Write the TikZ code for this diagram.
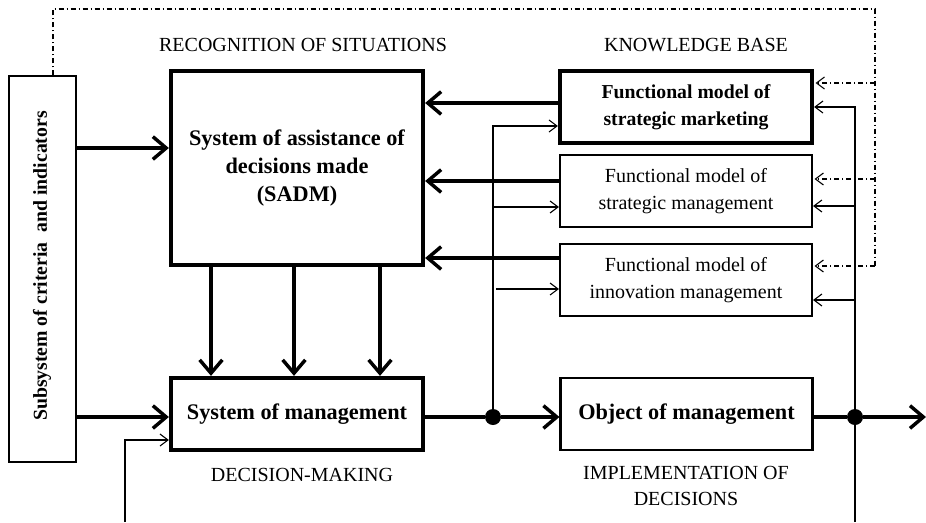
\documentclass[tikz,border=0pt]{standalone}
\usepackage{fontspec}
\setmainfont{Liberation Serif}
\usetikzlibrary{arrows.meta}
\begin{document}
\begin{tikzpicture}[x=0.75pt,y=-0.75pt,
  box/.style={draw, line width=1.6pt, minimum width=189pt, minimum height=54pt,
    align=center, inner sep=2pt, font=\fontsize{15}{20.5}\selectfont},
  heavybox/.style={box, line width=3.2pt},
  bigarr/.style={line width=3pt, -{Straight Barb[length=10pt,width=17pt,line width=2.6pt]}},
  thinline/.style={line width=0.8pt},
  thinarr/.style={thinline, -{Straight Barb[length=6pt,width=9pt,line width=0.8pt]}},
  dashdot/.style={line width=0.8pt, dash pattern=on 4pt off 2pt on 1pt off 2pt},
  dashdotarr/.style={dashdot, -{Straight Barb[length=6pt,width=9pt,line width=0.8pt,sep]}},
  caption/.style={font=\fontsize{15}{19}\selectfont, align=center},
  junction/.style={circle, fill, inner sep=0pt, minimum size=12pt}]
\useasboundingbox (0,0) rectangle (926,522);

% Blocks
\node[draw, line width=1.6pt, minimum width=50pt, minimum height=289pt] (crit) at (42.5,269) {};
\node[rotate=90, font=\bfseries\fontsize{14.8}{16}\selectfont] at (42,266)
  {Subsystem of criteria\ \ and indicators};
\node[heavybox, minimum height=145.5pt, font=\bfseries\fontsize{16.7}{21}\selectfont] (sadm) at (297,168)
  {System of assistance of\\decisions made\\(SADM)};
\node[heavybox, font=\bfseries\fontsize{16.7}{21}\selectfont] (som) at (297,414) {System of management};
\node[heavybox, font=\bfseries\fontsize{14.8}{20.5}\selectfont] (mkt) at (686,107)
  {Functional model of\\strategic marketing};
\node[box] (stm) at (686,191) {Functional model of\\strategic management};
\node[box] (inn) at (686,280) {Functional model of\\innovation management};
\node[box, font=\bfseries\fontsize{16.7}{21}\selectfont] (obj) at (686.5,414) {Object of management};

% Captions
\node[caption] at (303,45) {RECOGNITION OF SITUATIONS};
\node[caption] at (696,45) {KNOWLEDGE BASE};
\node[caption] at (302,475) {DECISION-MAKING};
\node[caption] at (686,486) {IMPLEMENTATION OF\\DECISIONS};

% Junction points
\node[junction] (j1) at (493,417) {};
\node[junction] (j2) at (855,417) {};
\coordinate (out) at (926,417);

% Main flow
\draw[bigarr] (crit.east |- 0,148) -- (sadm.west |- 0,148);
\draw[bigarr] (crit.east |- 0,417) -- (som.west |- 0,417);
\draw[line width=3pt] (som.east |- j1) -- (j1);
\draw[bigarr] (j1) -- (obj.west |- j1);
\draw[line width=3pt] (obj.east |- j2) -- (j2);
\draw[bigarr] (j2) -- (out);
\foreach \x in {211,294,380}
  \draw[bigarr] (sadm.south -| \x,0) -- (som.north -| \x,0);

% Knowledge base to SADM
\draw[bigarr] (mkt.west |- 0,103) -- (sadm.east |- 0,103);
\draw[bigarr] (stm.west |- 0,181) -- (sadm.east |- 0,181);
\draw[bigarr] (inn.west |- 0,258) -- (sadm.east |- 0,258);

% Feedback from the decision line
\coordinate (l1) at (493,126);
\draw[thinarr] (j1) -- (l1) -- (mkt.west |- l1);
\draw[thinarr] (493,207) -- (stm.west |- 0,207);
\draw[thinarr] (496,289) -- (inn.west |- 0,289);

% Feedback from the output line
\coordinate (r0) at (855,522);
\coordinate (r1) at (855,107);
\draw[thinarr] (r0) -- (r1) -- (mkt.east |- r1);
\draw[thinarr] (855,206) -- (stm.east |- 0,206);
\draw[thinarr] (855,300) -- (inn.east |- 0,300);

% Input to the system of management from below
\coordinate (b0) at (125,522);
\coordinate (b1) at (125,440);
\draw[thinarr] (b0) -- (b1) -- (som.west |- b1);

% Criteria feedback (dash-dot)
\coordinate (d1) at (53,9);
\coordinate (d2) at (875,9);
\coordinate (d3) at (875,266);
\draw[dashdot] (crit.north -| d1) -- (d1) -- (d2) -- (d3);
\draw[dashdotarr] (875,83) -- (mkt.east |- 0,83);
\draw[dashdotarr] (875,179) -- (stm.east |- 0,179);
\draw[dashdotarr] (d3) -- (inn.east |- d3);
\end{tikzpicture}
\end{document}
